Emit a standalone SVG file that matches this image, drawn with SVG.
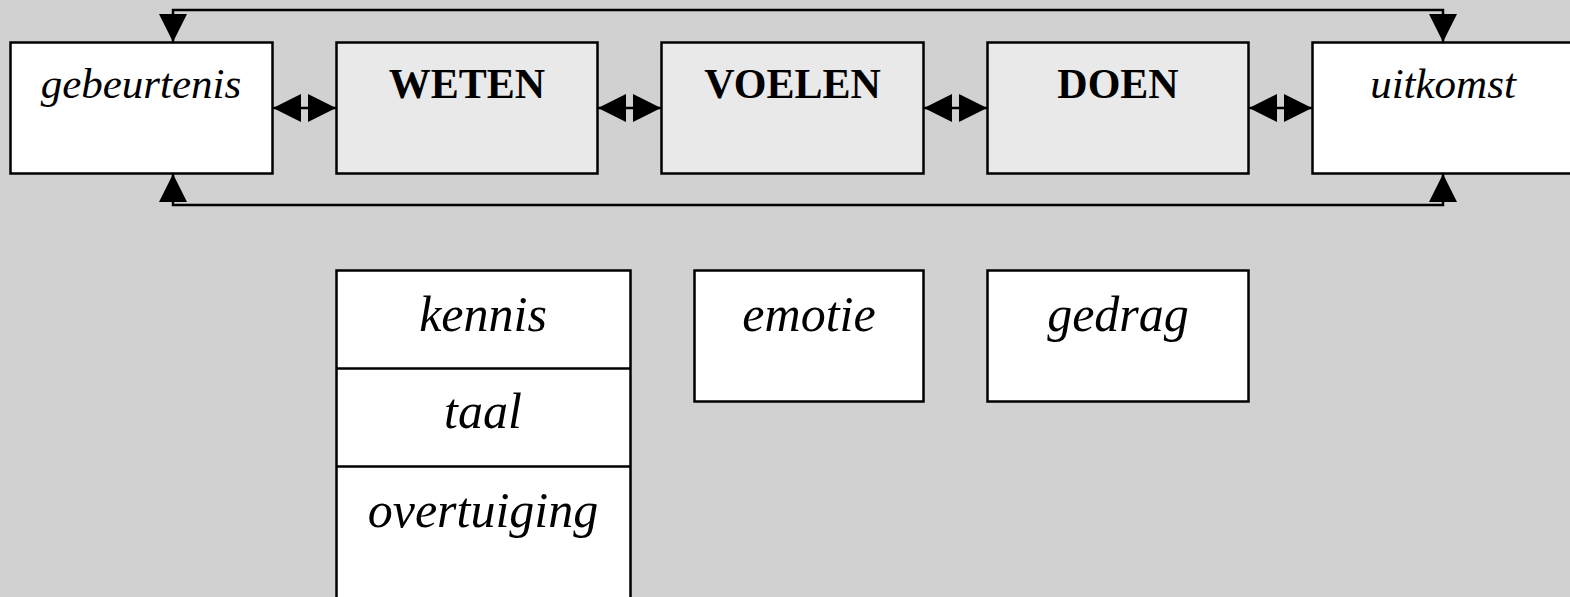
<svg xmlns="http://www.w3.org/2000/svg" width="1570" height="597" viewBox="0 0 1570 597">
  <defs>
    <marker id="head" viewBox="0 0 28 28" refX="28" refY="14" markerWidth="28" markerHeight="28" markerUnits="userSpaceOnUse" orient="auto-start-reverse">
      <path d="M0,0 L28,14 L0,28 z" fill="#000"/>
    </marker>
    <style>
      .box { stroke: #000; stroke-width: 2.5; }
      .plain { fill: #fff; }
      .step { fill: #e9e9e9; }
      .rule { stroke: #000; stroke-width: 2.5; }
      .conn { fill: none; stroke: #000; stroke-width: 2.5; marker-start: url(#head); marker-end: url(#head); }
      .lbl { font-family: "Liberation Serif", "Times New Roman", serif; font-style: italic; font-size: 43px; text-anchor: middle; fill: #000; }
      .big { font-size: 50px; }
      .head { font-family: "Liberation Serif", "Times New Roman", serif; font-weight: bold; font-size: 42px; text-anchor: middle; fill: #000; }
    </style>
  </defs>
  <rect width="1570" height="597" fill="#d1d1d1"/>

  <!-- connectors -->
  <g id="connectors">
    <path class="conn" d="M173,42 V10 H1443 V42"/>
    <path class="conn" d="M173,174 V205 H1443 V174"/>
    <line class="conn" x1="273" y1="108" x2="336" y2="108"/>
    <line class="conn" x1="598" y1="108" x2="661" y2="108"/>
    <line class="conn" x1="924" y1="108" x2="987" y2="108"/>
    <line class="conn" x1="1249" y1="108" x2="1312" y2="108"/>
  </g>

  <!-- top row -->
  <g id="gebeurtenis">
    <rect class="box plain" x="10.5" y="42.5" width="262" height="131"/>
    <text class="lbl" x="141" y="98">gebeurtenis</text>
  </g>
  <g id="weten">
    <rect class="box step" x="336.5" y="42.5" width="261" height="131"/>
    <text class="head" x="467" y="98">WETEN</text>
  </g>
  <g id="voelen">
    <rect class="box step" x="661.5" y="42.5" width="262" height="131"/>
    <text class="head" x="792.5" y="98">VOELEN</text>
  </g>
  <g id="doen">
    <rect class="box step" x="987.5" y="42.5" width="261" height="131"/>
    <text class="head" x="1118" y="98">DOEN</text>
  </g>
  <g id="uitkomst">
    <rect class="box plain" x="1312.5" y="42.5" width="262" height="131"/>
    <text class="lbl" x="1443" y="98">uitkomst</text>
  </g>

  <!-- bottom row -->
  <g id="weten-detail">
    <rect class="box plain" x="336.5" y="270.5" width="294" height="340"/>
    <line class="rule" x1="336.5" y1="368.5" x2="630.5" y2="368.5"/>
    <line class="rule" x1="336.5" y1="466.5" x2="630.5" y2="466.5"/>
    <text class="lbl big" x="483" y="331">kennis</text>
    <text class="lbl big" x="483" y="428">taal</text>
    <text class="lbl big" x="483" y="527">overtuiging</text>
  </g>
  <g id="emotie">
    <rect class="box plain" x="694.5" y="270.5" width="229" height="131"/>
    <text class="lbl big" x="809" y="331">emotie</text>
  </g>
  <g id="gedrag">
    <rect class="box plain" x="987.5" y="270.5" width="261" height="131"/>
    <text class="lbl big" x="1118" y="331">gedrag</text>
  </g>
</svg>
